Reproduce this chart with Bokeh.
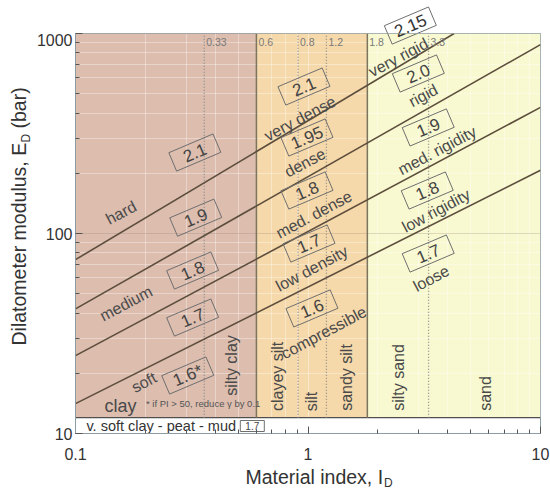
import numpy as np
from bokeh.plotting import figure
from bokeh.layouts import row, column
from bokeh.models import Range1d, FixedTicker, NumeralTickFormatter, ColumnDataSource
from bokeh.core.properties import value
from bokeh.embed import file_html
from bokeh.resources import INLINE

FONT = "Liberation Sans"

# ---------------- data ----------------
zone_left = [0.1, 0.6, 1.8]
zone_right = [0.6, 1.8, 10.0]
zone_bottom = 12.0
zone_top = 1000.0
zone_colors = ["#dcbdae", "#f6d9aa", "#f8f9d0"]

boundary_ID = [0.6, 1.8]
dotted_ID = [0.358, 0.906, 1.2, 3.3]
top_mark_ID = [0.358, 0.6, 0.906, 1.2, 1.8, 3.3]
top_mark_text = ["0.33", "0.6", "0.8", "1.2", "1.8", "3.3"]
top_mark_ED = [912] * 6

line_ID = [[0.1, 4.25], [0.1, 10.0], [0.1, 10.0], [0.1, 10.0]]
line_ED = [[74, 1000], [42, 880], [24.5, 427], [14.1, 207]]

gamma_text = ["2.1", "1.9", "1.8", "1.7", "1.6*",
              "2.1", "1.95", "1.8", "1.7", "1.6",
              "2.0", "1.9", "1.8", "1.7"]
gamma_ID = [0.326, 0.329, 0.319, 0.319, 0.304,
            0.961, 0.990, 0.990, 1.010, 1.040,
            2.982, 3.289, 3.257, 3.289]
gamma_ED = [254, 120, 65.3, 38.0, 19.5,
            543, 302, 164, 89.1, 42.2,
            631, 339, 164, 79.4]

top_gamma_text = ["2.15"]
top_gamma_ID = [2.755]
top_gamma_ED = [1096]

state_text = ["hard", "medium", "soft",
              "very dense", "dense", "med. dense", "low density", "compressible",
              "very rigid", "rigid", "med. rigidity", "low rigidity", "loose"]
state_ID = [0.157, 0.165, 0.197,
            0.924, 0.971, 1.061, 1.040, 1.170,
            2.448, 3.131, 3.594, 3.558, 3.388]
state_ED = [127, 44.7, 18.0,
            376, 226, 124.5, 66.8, 32.0,
            759, 490, 260, 130, 59.6]

soil_text = ["silty clay", "clayey silt", "silt", "sandy silt", "silty sand", "sand"]
soil_ID = [0.469, 0.737, 1.040, 1.468, 2.448, 5.82]
soil_ED = [21.9, 19.3, 14.45, 19.05, 19.05, 15.85]

clay_text = "clay"
clay_ID, clay_ED = 0.156, 13.8
note_text = "* if PI > 50, reduce \u03b3 by 0.1"
note_ID, note_ED = 0.201, 14.1

band_text = "v. soft clay - peat - mud"
band_ID, band_ED = 0.1114, 10.9
band_gamma_text = "1.7"
band_gamma_ID = 0.576

x_ticks = [0.1, 1, 10]
y_ticks = [10, 100, 1000]
x_minor = [m * 10.0 ** k for k in (-1, 0) for m in range(2, 10)]
y_minor = [m * 10.0 ** k for k in (1, 2) for m in range(2, 10)]

x_title = ["Material index, I", "D"]
y_title = ["Dilatometer modulus, E", "D", "(bar)"]

# ---------------- layout sizes ----------------
W, H = 550, 489
YT_W = 33           # strip for the y title
TOP_H = 33          # strip above the frame
XT_H = 22           # strip for the x title
MAIN_W = W - YT_W
MAIN_H = H - TOP_H - XT_H
BL, BR, BB = 72 - YT_W, 10, 34

box_angle = np.radians(23)


def draw_top_box(fig):
    fig.rect(x=top_gamma_ID, y=top_gamma_ED, width=48, height=20, width_units="screen",
             height_units="screen", angle=box_angle, fill_color=None,
             line_color="#6f6f6f", line_width=1)
    fig.text(x=top_gamma_ID, y=top_gamma_ED, text=top_gamma_text, angle=box_angle,
             text_align="center", text_baseline="middle", text_font=value(FONT),
             text_font_size="17px", text_color="#333333")


# ---------------- main figure ----------------
p = figure(width=MAIN_W, height=MAIN_H, x_axis_type="log", y_axis_type="log",
           x_range=Range1d(0.1, 10), y_range=Range1d(10, 1000),
           toolbar_location=None, output_backend="svg",
           min_border_left=BL, min_border_right=BR, min_border_top=0, min_border_bottom=BB)
p.background_fill_color = "white"
p.border_fill_color = "white"
p.outline_line_color = "#8c9ca4"

zsrc = ColumnDataSource(dict(left=zone_left, right=zone_right,
                             bottom=[zone_bottom] * 3, top=[zone_top] * 3, color=zone_colors))
p.quad(left="left", right="right", bottom="bottom", top="top", fill_color="color",
       line_color=None, source=zsrc, level="image")

p.segment(x0=[zone_left[0]], y0=[zone_bottom], x1=[zone_right[-1]], y1=[zone_bottom],
          line_color="#4f4f4f", line_width=1.3)
p.segment(x0=boundary_ID, y0=[zone_bottom] * 2, x1=boundary_ID, y1=[zone_top] * 2,
          line_color="#7d7460", line_width=1.5)
p.segment(x0=dotted_ID, y0=[zone_bottom] * 4, x1=dotted_ID, y1=[zone_top] * 4,
          line_color="#8a8a8a", line_width=1.3, line_dash="1 2")
p.multi_line(xs=line_ID, ys=line_ED, line_color="#5c4d3c", line_width=1.6)

p.text(x=top_mark_ID, y=top_mark_ED, text=top_mark_text, x_offset=2,
       text_align="left", text_baseline="middle", text_font=value(FONT),
       text_font_size="10.5px", text_color="#7a7a7a")

p.rect(x=gamma_ID, y=gamma_ED, width=48, height=20, width_units="screen", height_units="screen",
       angle=box_angle, fill_color=None, line_color="#6f6f6f", line_width=1)
p.text(x=gamma_ID, y=gamma_ED, text=gamma_text, angle=box_angle,
       text_align="center", text_baseline="middle", text_font=value(FONT),
       text_font_size="17px", text_color="#444444")
draw_top_box(p)

p.text(x=state_ID, y=state_ED, text=state_text, angle=np.radians(28),
       text_align="center", text_baseline="middle", text_font=value(FONT),
       text_font_size="16px", text_color="#4a4a4a")

p.text(x=soil_ID, y=soil_ED, text=soil_text, angle=np.pi / 2,
       text_align="center", text_baseline="middle", text_font=value(FONT),
       text_font_size="16px", text_color="#4a4a4a")

p.text(x=[clay_ID], y=[clay_ED], text=[clay_text], text_align="center", text_baseline="middle",
       text_font=value(FONT), text_font_size="18px", text_color="#4a4a4a")
p.text(x=[note_ID], y=[note_ED], text=[note_text], text_align="left", text_baseline="middle",
       text_font=value(FONT), text_font_size="9.5px", text_color="#555555")

p.text(x=[band_ID], y=[band_ED], text=[band_text], text_align="left", text_baseline="middle",
       text_font=value(FONT), text_font_size="14.5px", text_color="#333333")
p.rect(x=[band_gamma_ID], y=[band_ED], width=24, height=11, width_units="screen",
       height_units="screen", fill_color=None, line_color="#6f6f6f", line_width=1)
p.text(x=[band_gamma_ID], y=[band_ED], text=[band_gamma_text], text_align="center",
       text_baseline="middle", text_font=value(FONT), text_font_size="10px", text_color="#444444")

p.xaxis.ticker = FixedTicker(ticks=x_ticks, minor_ticks=x_minor)
p.yaxis.ticker = FixedTicker(ticks=y_ticks, minor_ticks=y_minor)
for ax in (p.xaxis[0], p.yaxis[0]):
    ax.formatter = NumeralTickFormatter(format="0.[0]")
    ax.major_tick_in = 7
    ax.major_tick_out = 0
    ax.minor_tick_in = 4
    ax.minor_tick_out = 0
    ax.axis_line_color = "#8c9ca4"
    ax.major_tick_line_color = "#555555"
    ax.minor_tick_line_color = "#555555"
    ax.major_label_text_font = FONT
    ax.major_label_text_font_size = "16px"
    ax.major_label_text_color = "#333333"
p.xaxis.major_label_standoff = 14
p.yaxis.major_label_standoff = 3

p.xgrid.grid_line_color = "#ffffff"
p.xgrid.grid_line_alpha = 0.4
p.xgrid.minor_grid_line_color = "#ffffff"
p.xgrid.minor_grid_line_alpha = 0.35
p.ygrid.grid_line_color = "#8a7a70"
p.ygrid.grid_line_alpha = 0.25
p.ygrid.minor_grid_line_color = "#ffffff"
p.ygrid.minor_grid_line_alpha = 0.35


def strip(width, height, x_range, y_range, log=False):
    kw = dict(x_axis_type="log", y_axis_type="log") if log else {}
    f = figure(width=width, height=height, x_range=x_range, y_range=y_range,
               toolbar_location=None, output_backend="svg",
               x_axis_location=None, y_axis_location=None, **kw)
    f.min_border_left = BL if log else 0
    f.min_border_right = BR if log else 0
    f.min_border_top = 0
    f.min_border_bottom = 0
    f.outline_line_color = None
    f.background_fill_color = "white"
    f.border_fill_color = "white"
    f.grid.visible = False
    return f


# strip above the frame: same x scale, log y continuing above 1000
top = strip(MAIN_W, TOP_H, Range1d(0.1, 10), Range1d(1000, 1000 * 10 ** (TOP_H / 200)), log=True)
draw_top_box(top)

# x title strip (pixel coordinates, y up from the strip bottom)
xt = strip(MAIN_W, XT_H, Range1d(0, MAIN_W), Range1d(0, XT_H))
xt.text(x=[375 - YT_W], y=[13], text=[x_title[0]], text_align="right", text_baseline="middle",
        text_font=value(FONT), text_font_size="19.5px", text_color="#333333")
xt.text(x=[376 - YT_W], y=[7], text=[x_title[1]], text_align="left", text_baseline="middle",
        text_font=value(FONT), text_font_size="12px", text_color="#333333")

# y title strip (pixel coordinates, y up from bottom)
yt = strip(YT_W, H, Range1d(0, YT_W), Range1d(0, H))
yt.text(x=[18], y=[144], text=[y_title[0]], angle=np.pi / 2, text_align="left",
        text_baseline="middle", text_font=value(FONT), text_font_size="19.5px",
        text_color="#333333")
yt.text(x=[25], y=[347], text=[y_title[1]], angle=np.pi / 2, text_align="left",
        text_baseline="middle", text_font=value(FONT), text_font_size="12px",
        text_color="#333333")
yt.text(x=[18], y=[361], text=[y_title[2]], angle=np.pi / 2, text_align="left",
        text_baseline="middle", text_font=value(FONT), text_font_size="19.5px",
        text_color="#333333")

layout = row(yt, column(top, p, xt, spacing=0), spacing=0)

open("out.html", "w").write(file_html(layout, INLINE))
